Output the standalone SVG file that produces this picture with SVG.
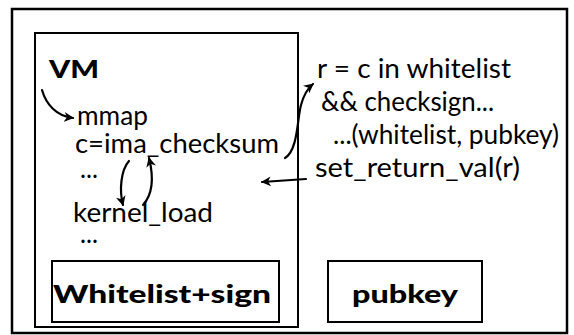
<svg xmlns="http://www.w3.org/2000/svg" width="574" height="335" viewBox="0 0 574 335">
<style>
.box{fill:none;stroke:#000;stroke-width:2}
.t{font-family:Lato,"Open Sans","Liberation Sans",sans-serif;font-size:27px;fill:#000}
.b{font-family:Lato,"Open Sans","Liberation Sans",sans-serif;font-weight:900;font-size:25px;fill:#000}
.c{fill:none;stroke:#000;stroke-width:2.2;stroke-linecap:round}
</style>
<defs>
<marker id="ah" viewBox="0 0 10 10" refX="9" refY="5" markerWidth="4.5" markerHeight="4.5" orient="auto" markerUnits="strokeWidth">
<path d="M0,0 L10,5 L0,10 L3,5 z" fill="#000"/>
</marker>
</defs>
<rect id="outer" x="12" y="9" width="555" height="324" fill="#fff" stroke="#000" stroke-width="2.5"/>
<g id="vm">
<rect class="box" x="35" y="33" width="263" height="294"/>
<text class="b" x="49" y="78" textLength="50" lengthAdjust="spacingAndGlyphs">VM</text>
<text class="t" x="77" y="125" textLength="71" lengthAdjust="spacingAndGlyphs">mmap</text>
<text class="t" x="75" y="153" textLength="204" lengthAdjust="spacingAndGlyphs">c=ima_checksum</text>
<text class="t" x="80" y="178" textLength="18" lengthAdjust="spacingAndGlyphs">...</text>
<text class="t" x="73" y="222" textLength="140" lengthAdjust="spacingAndGlyphs">kernel_load</text>
<text class="t" x="80" y="243" textLength="18" lengthAdjust="spacingAndGlyphs">...</text>
</g>
<g id="whitelist">
<rect class="box" x="52" y="261" width="227" height="61"/>
<text class="b" x="53" y="303" textLength="218" lengthAdjust="spacingAndGlyphs">Whitelist+sign</text>
</g>
<g id="pubkey">
<rect class="box" x="328" y="261" width="154" height="61"/>
<text class="b" x="352" y="303" textLength="106" lengthAdjust="spacingAndGlyphs">pubkey</text>
</g>
<g id="host">
<text class="t" x="317" y="78" textLength="194" lengthAdjust="spacingAndGlyphs">r = c in whitelist</text>
<text class="t" x="321" y="111" textLength="173" lengthAdjust="spacingAndGlyphs">&amp;&amp; checksign...</text>
<text class="t" x="333" y="144" textLength="226" lengthAdjust="spacingAndGlyphs">...(whitelist, pubkey)</text>
<text class="t" x="315" y="177" textLength="205" lengthAdjust="spacingAndGlyphs">set_return_val(r)</text>
</g>
<g id="connectors">
<path class="c" d="M42,90 C46,104 56,116 73,118" marker-end="url(#ah)"/>
<path class="c" d="M285,158 C298,150 297,120 301,105 C304,94 308,88 313,84" marker-end="url(#ah)"/>
<path class="c" d="M306,179 L262,182" marker-end="url(#ah)"/>
<path class="c" d="M129,161 C121,170 119,190 123,205" marker-end="url(#ah)"/>
<path class="c" d="M143,205 C152,195 154,178 149,158" marker-end="url(#ah)"/>
</g>
</svg>
